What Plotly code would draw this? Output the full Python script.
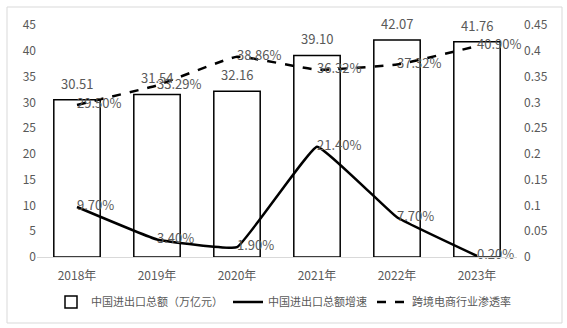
import plotly.graph_objects as go

years = ["2018年", "2019年", "2020年", "2021年", "2022年", "2023年"]
trade_total = [30.51, 31.54, 32.16, 39.10, 42.07, 41.76]
trade_growth = [0.097, 0.034, 0.019, 0.214, 0.077, 0.002]
penetration = [0.2950, 0.3329, 0.3886, 0.3632, 0.3732, 0.4090]

FONT = "Noto Sans CJK SC, Microsoft YaHei, sans-serif"
GRAY = "#595959"

fig = go.Figure()
fig.add_trace(go.Bar(
    x=years, y=trade_total, name="中国进出口总额（万亿元）",
    marker=dict(color="white", line=dict(color="black", width=1.5)),
))
fig.add_trace(go.Scatter(
    x=years, y=trade_growth, name="中国进出口总额增速", yaxis="y2",
    mode="lines+text", line=dict(color="black", width=2.5, shape="spline", smoothing=0.25),
    text=[f"{v*100:.2f}%" for v in trade_growth], textposition="middle right",
    textfont=dict(color=GRAY, size=13), cliponaxis=False,
))
fig.add_trace(go.Scatter(
    x=years, y=penetration, name="跨境电商行业渗透率", yaxis="y2",
    mode="lines+text", line=dict(color="black", width=2.5, dash="dash", shape="spline", smoothing=0.3),
    text=[f"{v*100:.2f}%" for v in penetration], textposition="middle right",
    textfont=dict(color=GRAY, size=13), cliponaxis=False,
))

annotations = [dict(x=yr, y=v, xref="x", yref="y", text=f"{v:.2f}", showarrow=False,
                    yanchor="bottom", yshift=5, font=dict(color=GRAY, size=13))
               for yr, v in zip(years, trade_total)]

# plot area: x 37..517, y 25..257
fig.update_layout(
    width=567, height=328,
    margin=dict(l=37, r=50, t=25, b=71, autoexpand=False),
    paper_bgcolor="white", plot_bgcolor="white",
    font=dict(family=FONT, color=GRAY, size=12),
    bargap=0.42,
    showlegend=True,
    annotations=annotations,
    legend=dict(orientation="h", x=0.5, xanchor="center", xref="container",
                y=26 / 328, yanchor="middle", yref="container",
                font=dict(size=11, color=GRAY), itemwidth=30, tracegroupgap=0,
                bgcolor="rgba(0,0,0,0)"),
    xaxis=dict(showline=True, linecolor="#d9d9d9", linewidth=1, ticks="",
               tickfont=dict(size=12, color=GRAY), showgrid=False, ticklabelstandoff=8),
    yaxis=dict(range=[0, 45], dtick=5, showgrid=False, zeroline=False,
               tickfont=dict(size=12, color=GRAY), showline=False),
    yaxis2=dict(range=[0, 0.45], dtick=0.05, overlaying="y", side="right",
                showgrid=False, zeroline=False, tickformat="~g", ticklabelstandoff=6,
                tickfont=dict(size=12, color=GRAY), showline=False),
    shapes=[dict(type="rect", xref="paper", yref="paper",
                 x0=(7 - 37) / 480, x1=(562 - 37) / 480,
                 y0=(257 - 323) / 232, y1=(257 - 7) / 232,
                 line=dict(color="#d9d9d9", width=1), fillcolor="rgba(0,0,0,0)", layer="below")],
)

fig.write_html("out.html")
